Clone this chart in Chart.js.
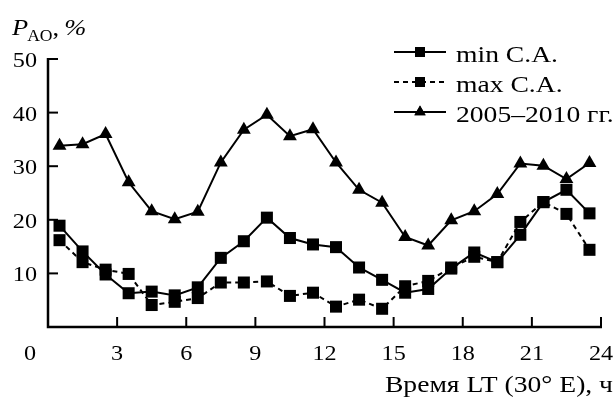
<!DOCTYPE html>
<html>
<head>
<meta charset="utf-8">
<script src="https://cdn.jsdelivr.net/npm/chart.js@4.4.1/dist/chart.umd.min.js"></script>
<style>
  html, body { margin: 0; padding: 0; background: #fff; }
  #wrap { width: 616px; height: 402px; }
</style>
</head>
<body>
<div id="wrap"><canvas id="chart" width="616" height="402"></canvas></div>
<script>
// hours (LT), middle of each hour bin
const hours = [0.5, 1.5, 2.5, 3.5, 4.5, 5.5, 6.5, 7.5, 8.5, 9.5, 10.5, 11.5,
               12.5, 13.5, 14.5, 15.5, 16.5, 17.5, 18.5, 19.5, 20.5, 21.5, 22.5, 23.5];

const minSA = [18.9, 14.1, 9.8, 6.3, 6.6, 5.9, 7.4, 12.9, 16.0, 20.4, 16.6, 15.4,
               14.9, 11.1, 8.8, 6.4, 7.1, 10.9, 13.9, 12.1, 17.2, 23.3, 25.6, 21.2];
const maxSA = [16.2, 12.1, 10.7, 9.9, 4.1, 4.7, 5.4, 8.3, 8.3, 8.5, 5.8, 6.4,
               3.8, 5.1, 3.4, 7.6, 8.6, 11.1, 13.1, 12.1, 19.6, 23.3, 21.1, 14.4];
const years0510 = [33.8, 34.1, 36.0, 27.0, 21.6, 20.1, 21.5, 30.7, 36.8, 39.6, 35.6, 36.9,
                   30.7, 25.6, 23.2, 16.8, 15.2, 19.9, 21.6, 24.8, 30.5, 30.1, 27.6, 30.6];

const seriesNames = ["min С.А.", "max С.А.", "2005\u20132010 гг."];
const xTicks = [0, 3, 6, 9, 12, 15, 18, 21, 24];
const yTicks = [10, 20, 30, 40, 50];

const FONT = "Liberation Serif, Times New Roman, serif";

function pts(ys) {
    return hours.map((h, i) => ({ x: h, y: ys[i] }));
}

// text is a bit wider than normal in the original figure
function txt(ctx, s, x, y, align, font, sx) {
    ctx.save();
    ctx.font = font;
    ctx.textAlign = align;
    ctx.translate(x, y);
    ctx.scale(sx, 1);
    ctx.fillText(s, 0, 0);
    const w = ctx.measureText(s).width * sx;
    ctx.restore();
    return w;
}

// axes, ticks, labels and legend drawn by hand (inward ticks like the paper figure)
const frame = {
    id: "frame",
    afterDraw(chart) {
        const { ctx, chartArea } = chart;
        const xs = chart.scales.x, ys = chart.scales.y;
        const left = chartArea.left, bottom = chartArea.bottom;

        ctx.save();
        ctx.strokeStyle = "#000";
        ctx.lineWidth = 2.5;
        ctx.beginPath();
        ctx.moveTo(left, ys.getPixelForValue(50) - 1);
        ctx.lineTo(left, bottom);
        ctx.lineTo(xs.getPixelForValue(24) + 1, bottom);
        ctx.stroke();

        ctx.lineWidth = 2;
        yTicks.forEach(v => {
            const y = ys.getPixelForValue(v);
            ctx.beginPath();
            ctx.moveTo(left, y);
            ctx.lineTo(left + 10, y);
            ctx.stroke();
        });
        xTicks.slice(1).forEach(v => {
            const x = xs.getPixelForValue(v);
            ctx.beginPath();
            ctx.moveTo(x, bottom);
            ctx.lineTo(x, bottom - 10);
            ctx.stroke();
        });

        ctx.fillStyle = "#000";
        ctx.textBaseline = "alphabetic";
        const tickFont = "22px " + FONT;

        yTicks.forEach(v => {
            txt(ctx, String(v), left - 11, ys.getPixelForValue(v) + 8, "right", tickFont, 1.1);
        });
        xTicks.forEach(v => {
            let x = xs.getPixelForValue(v);
            if (v === 0) x -= 18;
            txt(ctx, String(v), x, bottom + 33, "center", tickFont, 1.1);
        });

        // x title
        txt(ctx, "Время LT (30° E), ч", 613, 392, "right", "23px " + FONT, 1.2);

        // y title P_AO, %
        let x = 12;
        x += txt(ctx, "P", x, 35, "left", "italic 23px " + FONT, 1.15) - 1;
        x += txt(ctx, "AO", x, 41, "left", "16px " + FONT, 1.1);
        x += txt(ctx, ",", x, 35, "left", "23px " + FONT, 1.15) + 5;
        txt(ctx, "%", x, 35, "left", "italic 23px " + FONT, 1.15);

        // legend
        const lx0 = 394, lx1 = 446, tx = 456;
        const rows = [52, 82, 112];
        chart.data.datasets.forEach((ds, i) => {
            const y = rows[i];
            ctx.strokeStyle = "#000";
            ctx.lineWidth = 2;
            ctx.setLineDash(ds.borderDash || []);
            ctx.beginPath();
            ctx.moveTo(lx0, y);
            ctx.lineTo(lx1, y);
            ctx.stroke();
            ctx.setLineDash([]);
            Chart.helpers.drawPoint(ctx, {
                pointStyle: ds.pointStyle,
                radius: ds.pointStyle === "triangle" ? 6.5 : 7,
                borderWidth: 0
            }, (lx0 + lx1) / 2, y);
            ctx.fillStyle = "#000";
            ctx.fill();
            txt(ctx, seriesNames[i], tx, y + 10, "left", "23px " + FONT, 1.2);
        });

        ctx.restore();
    }
};

const ctx = document.getElementById("chart").getContext("2d");

new Chart(ctx, {
    type: "line",
    data: {
        datasets: [
            {
                label: seriesNames[0],
                data: pts(minSA),
                borderColor: "#000",
                backgroundColor: "#000",
                borderWidth: 2,
                pointStyle: "rect",
                pointRadius: 8.5,
                pointBorderWidth: 0
            },
            {
                label: seriesNames[1],
                data: pts(maxSA),
                borderColor: "#000",
                backgroundColor: "#000",
                borderWidth: 2,
                borderDash: [5, 4],
                pointStyle: "rect",
                pointRadius: 8.5,
                pointBorderWidth: 0
            },
            {
                label: seriesNames[2],
                data: pts(years0510),
                borderColor: "#000",
                backgroundColor: "#000",
                borderWidth: 2,
                pointStyle: "triangle",
                pointRadius: 8,
                pointBorderWidth: 0
            }
        ]
    },
    options: {
        responsive: false,
        animation: false,
        clip: false,
        layout: { padding: { left: 48, right: 15, top: 59, bottom: 75 } },
        plugins: {
            legend: { display: false },
            tooltip: { enabled: false }
        },
        scales: {
            x: { type: "linear", min: 0, max: 24, display: false },
            y: { type: "linear", min: 0, max: 50, display: false }
        }
    },
    plugins: [frame]
});
</script>
</body>
</html>
